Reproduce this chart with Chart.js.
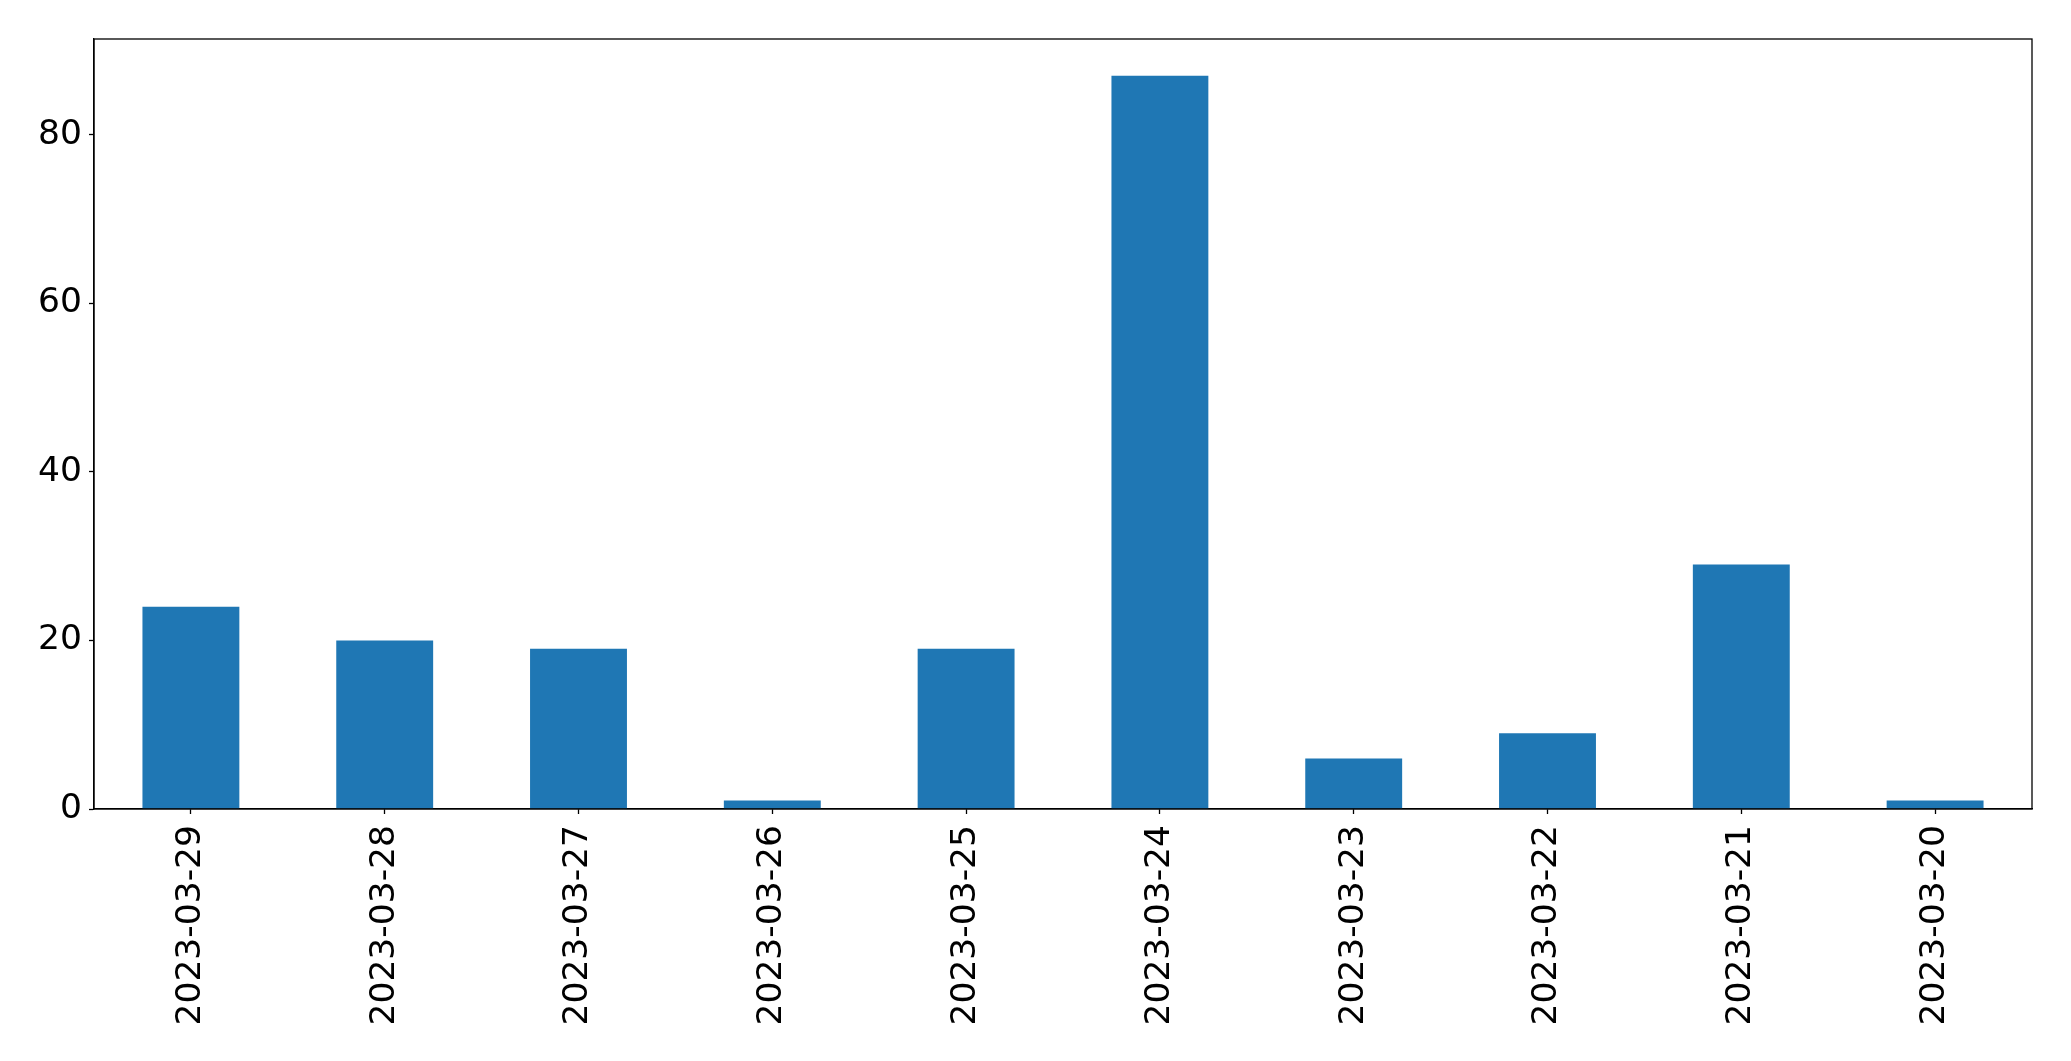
<!DOCTYPE html>
<html>
<head>
<meta charset="utf-8">
<script src="https://cdn.jsdelivr.net/npm/chart.js@4/dist/chart.umd.min.js"></script>
<style>
	html, body { margin: 0; padding: 0; background: #fff; }
	#wrap { width: 2071px; height: 1061px; }
</style>
</head>
<body>
<div id="wrap"><canvas id="chart" width="2071" height="1061"></canvas></div>
<script>
// Counts per day, newest first
const dates = [
	"2023-03-29", "2023-03-28", "2023-03-27", "2023-03-26", "2023-03-25",
	"2023-03-24", "2023-03-23", "2023-03-22", "2023-03-21", "2023-03-20",
];
const counts = [24, 20, 19, 1, 19, 87, 6, 9, 29, 1];
const yTicks = [0, 20, 40, 60, 80];
const yMax = 91.35;

const font = { family: "'DejaVu Sans', sans-serif", size: 34.5 };

// frame around the plot area, like matplotlib's spines
const frame = {
	id: "frame",
	afterDatasetsDraw(chart) {
		const { ctx, chartArea: a } = chart;
		ctx.save();
		ctx.strokeStyle = "#000";
		ctx.lineWidth = 1.3;
		ctx.strokeRect(a.left, a.top, a.right - a.left, a.bottom - a.top);
		ctx.restore();
	},
};

new Chart(document.getElementById("chart"), {
	type: "bar",
	data: {
		labels: dates,
		datasets: [
			{
				data: counts,
				backgroundColor: "#1f77b4",
				categoryPercentage: 0.5,
				barPercentage: 1,
			},
		],
	},
	options: {
		responsive: false,
		animation: false,
		layout: { padding: { top: 39, right: 39, left: 0, bottom: 0 } },
		plugins: { legend: { display: false }, tooltip: { enabled: false } },
		scales: {
			x: {
				offset: true,
				grid: { display: true, offset: false, drawOnChartArea: false, tickLength: 5, color: "#000", tickColor: "#000", tickWidth: 1.3 },
				border: { display: true, color: "#000", width: 1.3 },
				ticks: { color: "#000", font, minRotation: 90, maxRotation: 90, padding: 11, autoSkip: false },
				afterFit(axis) { axis.height = 252; },
			},
			y: {
				min: 0,
				max: yMax,
				grid: { display: true, drawOnChartArea: false, tickLength: 5, color: "#000", tickColor: "#000", tickWidth: 1.3 },
				border: { display: true, color: "#000", width: 1.3 },
				ticks: { color: "#000", font, padding: 7 },
				afterBuildTicks(axis) { axis.ticks = yTicks.map((v) => ({ value: v })); },
				afterFit(axis) { axis.width = 94; },
			},
		},
	},
	plugins: [frame],
});
</script>
</body>
</html>
